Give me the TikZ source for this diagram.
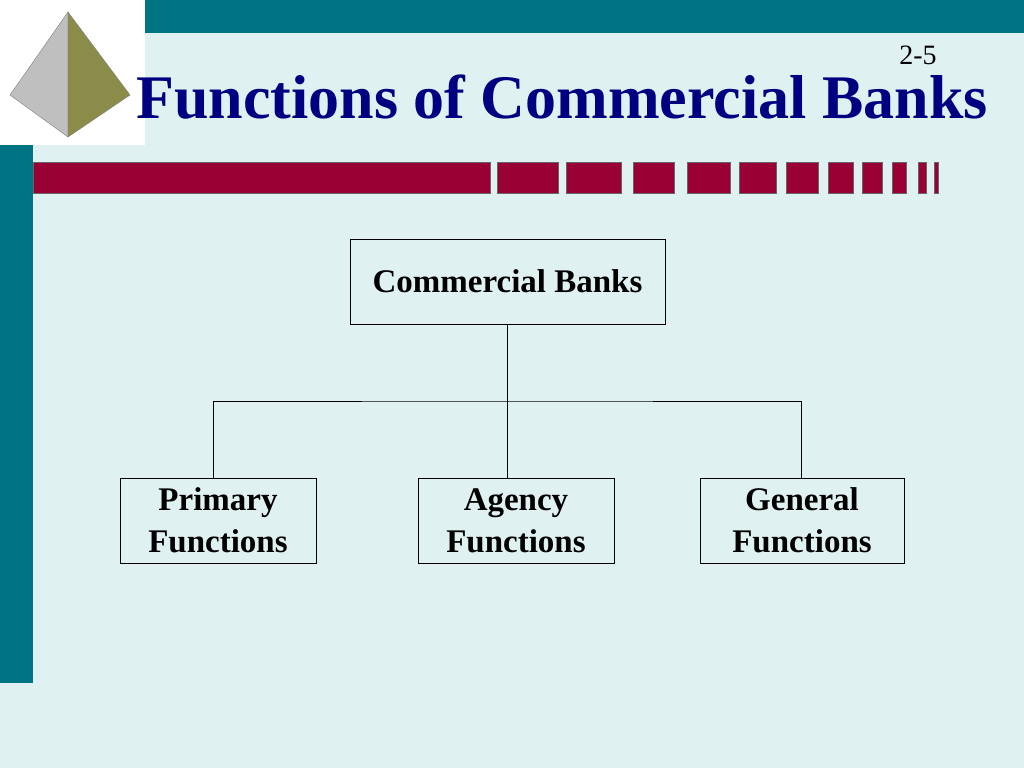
\documentclass[tikz,border=0pt]{standalone}
\usepackage{fontspec}
\setmainfont{Liberation Serif}
\definecolor{bgcyan}{HTML}{DFF1F0}
\definecolor{teal}{HTML}{007483}
\definecolor{wine}{HTML}{990033}
\definecolor{olive}{HTML}{8B8B4A}
\definecolor{navy}{HTML}{000080}
\tikzset{
    box/.style={draw=black,fill=bgcyan,minimum height=85pt,align=center,
        font=\fontsize{33}{42}\selectfont\bfseries,inner sep=0pt},
    seg/.style={fill=wine,draw=black!60,line width=0.8pt},
}
\begin{document}
\begin{tikzpicture}[x=1pt,y=-1pt]
    \useasboundingbox (0,0) rectangle (1024,768);
    \fill[bgcyan] (0,0) rectangle (1024,768);
    \fill[teal] (145,0) rectangle (1024,33);
    \fill[teal] (0,145) rectangle (33,683);
    \fill[white] (0,0) rectangle (145,145);

    % pyramid
    \draw[fill=black!25,draw=black!50] (68,12) -- (10,95) -- (68,137) -- cycle;
    \draw[fill=olive,draw=black!50] (68,12) -- (130,95) -- (68,137) -- cycle;

    % bar
    \draw[seg] (33,162) rectangle (490,193);
    \foreach\a/\b in {497/558,566/621,633/674,687/730,739/776,786/818,828/853,862/882,892/906,918/926,934/938}{
        \draw[seg] (\a,162) rectangle (\b,193);
    }

    \node[font=\fontsize{28}{30}\selectfont] (page) at (918,55) {2-5};
    \node[font=\fontsize{62}{66}\selectfont\bfseries,text=navy] (title) at (562,97) {Functions of Commercial Banks};

    \node[box,minimum width=315pt] (banks) at (507.5,281.5) {Commercial Banks};
    \node[box,minimum width=196pt] (primary) at (218,520.5) {Primary\\Functions};
    \node[box,minimum width=196pt] (agency) at (516,520.5) {Agency\\Functions};
    \node[box,minimum width=204pt] (general) at (802,520.5) {General\\Functions};

    \coordinate (split) at (banks.south |- 0,401);
    \draw (banks.south) -- (split);
    \draw (primary.north -| 213,0) |- (split) -| (general.north -| 801,0);
    \draw (split) -- (split |- agency.north);
\end{tikzpicture}
\end{document}
